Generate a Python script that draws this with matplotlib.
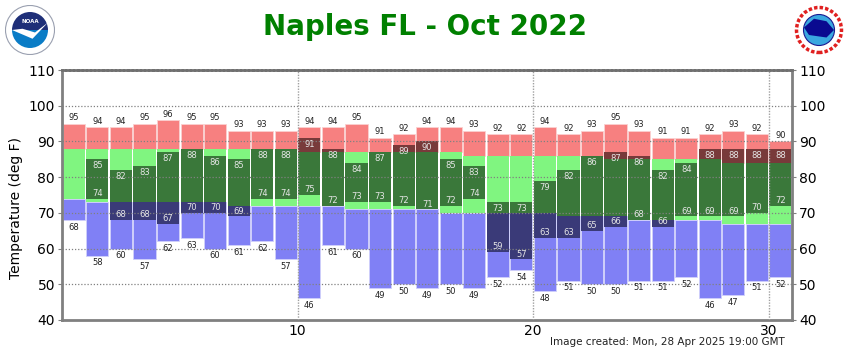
import numpy as np
import matplotlib.pyplot as plt
from matplotlib.patches import Circle, Wedge, Polygon

# Datos del mes (Naples FL, octubre 2022)
days = list(range(1, 32))
rec_high = [95, 94, 94, 95, 96, 95, 95, 93, 93, 93,
            94, 94, 95, 91, 92, 94, 94, 93, 92, 92,
            94, 92, 93, 95, 93, 91, 91, 92, 93, 92, 90]
norm_high = [88, 88, 88, 88, 88, 88, 88, 88, 88, 88,
             87, 87, 87, 87, 87, 87, 87, 86, 86, 86,
             86, 86, 86, 85, 85, 85, 85, 85, 84, 84, 84]
norm_low = [74, 73, 73, 73, 73, 73, 73, 72, 72, 72,
            72, 72, 71, 71, 71, 71, 70, 70, 70, 70,
            70, 69, 69, 69, 68, 68, 68, 68, 67, 67, 67]
rec_low = [68, 58, 60, 57, 62, 63, 60, 61, 62, 57,
           46, 61, 60, 49, 50, 49, 50, 49, 52, 54,
           48, 51, 50, 50, 51, 51, 52, 46, 47, 51, 52]
act_high = [np.nan, 85, 82, 83, 87, 88, 86, 85, 88, 88,
            91, 88, 84, 87, 89, 90, 85, 83, 73, 73,
            79, 82, 86, 87, 86, 82, 84, 88, 88, 88, 88]
act_low = [np.nan, 74, 68, 68, 67, 70, 70, 69, 74, 74,
           75, 72, 73, 73, 72, 71, 72, 74, 59, 57,
           63, 63, 65, 66, 68, 66, 69, 69, 69, 70, 72]

c_rec_high = '#f78080'
c_normal = '#80f580'
c_rec_low = '#8080f5'
c_act_norm = '#3a783a'
c_act_high = '#783a3a'
c_act_low = '#3a3a78'

fig = plt.figure(figsize=(8.5, 3.5), dpi=100)
ax = fig.add_axes([0.073, 0.086, 0.859, 0.714])

x = np.array(days) - 0.5
rh = np.array(rec_high, dtype=float)
nh = np.array(norm_high, dtype=float)
nl = np.array(norm_low, dtype=float)
rl = np.array(rec_low, dtype=float)
ah = np.array(act_high, dtype=float)
al = np.array(act_low, dtype=float)

w = 0.94
ax.bar(x, rh - nh, bottom=nh, width=w, color=c_rec_high, edgecolor='#fbd0d0', linewidth=0.6, zorder=2)
ax.bar(x, nh - nl, bottom=nl, width=w, color=c_normal, linewidth=0, zorder=2)
ax.bar(x, nl - rl, bottom=rl, width=w, color=c_rec_low, edgecolor='#d0d0fb', linewidth=0.6, zorder=2)

# observado, separado segun este por encima/dentro/debajo de lo normal
top_n = np.minimum(ah, nh)
bot_n = np.maximum(al, nl)
ax.bar(x, np.clip(top_n - bot_n, 0, None), bottom=bot_n, width=w, color=c_act_norm, linewidth=0, zorder=3)
ax.bar(x, np.clip(ah - nh, 0, None), bottom=nh, width=w, color=c_act_high, linewidth=0, zorder=3)
ax.bar(x, np.clip(nl - al, 0, None), bottom=al, width=w, color=c_act_low, linewidth=0, zorder=3)

# etiquetas
fs = 6
for i in range(len(days)):
    ax.annotate(str(rec_high[i]), (x[i], rh[i]), xytext=(0, 1), textcoords='offset points',
                ha='center', va='bottom', fontsize=fs, color='#222222', zorder=5)
    ax.annotate(str(rec_low[i]), (x[i], rl[i]), xytext=(0, -2), textcoords='offset points',
                ha='center', va='top', fontsize=fs, color='#222222', zorder=5)
    if not np.isnan(ah[i]):
        ax.annotate(str(int(ah[i])), (x[i], ah[i]), xytext=(0, -1.5), textcoords='offset points',
                    ha='center', va='top', fontsize=fs, color='#e6e6e6', zorder=5)
        ax.annotate(str(int(al[i])), (x[i], al[i]), xytext=(0, 0.5), textcoords='offset points',
                    ha='center', va='bottom', fontsize=fs, color='#e6e6e6', zorder=5)

# rejilla punteada sobre las barras
for yv in [50, 60, 70, 80, 90, 100]:
    ax.axhline(yv, color='#808080', linestyle=(0, (1, 1.5)), linewidth=0.9, zorder=4)
for xv in [10, 20, 30]:
    ax.axvline(xv, color='#a0a0a0', linestyle=(0, (1, 1)), linewidth=1.0, zorder=4)

ax.set_xlim(0, 31)
ax.set_ylim(40, 110)
ax.set_xticks([10, 20, 30])
ax.set_yticks([40, 50, 60, 70, 80, 90, 100, 110])
ax.tick_params(axis='y', labelsize=10, length=3, color='#808080', right=True, labelright=True, pad=2)
ax.tick_params(axis='x', labelsize=10, length=0, pad=3)

for s in ['left', 'bottom']:
    ax.spines[s].set_color('#808080')
    ax.spines[s].set_linewidth(2)
ax.spines['right'].set_color('#808080')
ax.spines['right'].set_linewidth(2)
ax.spines['top'].set_color('#707070')
ax.spines['top'].set_linewidth(2)
ax.spines['top'].set_linestyle((0, (1, 0.5)))

fig.text(16 / 850, 1 - 208 / 350, 'Temperature (deg F)', rotation=90, ha='center', va='center', fontsize=10)
fig.text(425 / 850, 1 - 35 / 350, 'Naples FL - Oct 2022', ha='center', va='baseline',
         fontsize=20, fontweight='bold', color='#008000')
fig.text(785 / 850, 1 - 342 / 350, 'Image created: Mon, 28 Apr 2025 19:00 GMT',
         ha='right', va='center', fontsize=7.5, color='#222222')

# logos aproximados
lg = fig.add_axes([5 / 850, 1 - 55 / 350, 50 / 850, 50 / 350])
lg.set_xlim(-1, 1)
lg.set_ylim(-1, 1)
lg.set_aspect('equal')
lg.axis('off')
lg.add_patch(Circle((0, 0), 0.98, facecolor='white', edgecolor='#9aa0b0', linewidth=0.8))
lg.add_patch(Wedge((0, 0), 0.72, 0, 180, facecolor='#1f2f78'))
lg.add_patch(Wedge((0, 0), 0.72, 180, 360, facecolor='#0a7cc6'))
lg.add_patch(Polygon([[-0.72, 0.0], [0.1, -0.35], [0.72, 0.3], [0.2, -0.1], [-0.3, 0.05]],
                     facecolor='white', edgecolor='none'))
lg.text(0, 0.35, 'NOAA', ha='center', va='center', fontsize=4, color='white', fontweight='bold')

lg2 = fig.add_axes([794 / 850, 1 - 55 / 350, 50 / 850, 50 / 350])
lg2.set_xlim(-1, 1)
lg2.set_ylim(-1, 1)
lg2.set_aspect('equal')
lg2.axis('off')
lg2.add_patch(Circle((0, 0), 0.9, facecolor='white', edgecolor='#e02020', linewidth=2.5,
                     linestyle=(0, (1, 0.6))))
lg2.add_patch(Circle((0, 0), 0.62, facecolor='#3aa8e0', edgecolor='#1a1a90', linewidth=0.8))
lg2.add_patch(Polygon([[-0.6, 0.1], [-0.2, 0.45], [0.3, 0.35], [0.6, 0.0], [0.3, -0.3], [-0.4, -0.2]],
                      facecolor='#0a0a90', edgecolor='none'))

plt.savefig('out.png', dpi=100)
